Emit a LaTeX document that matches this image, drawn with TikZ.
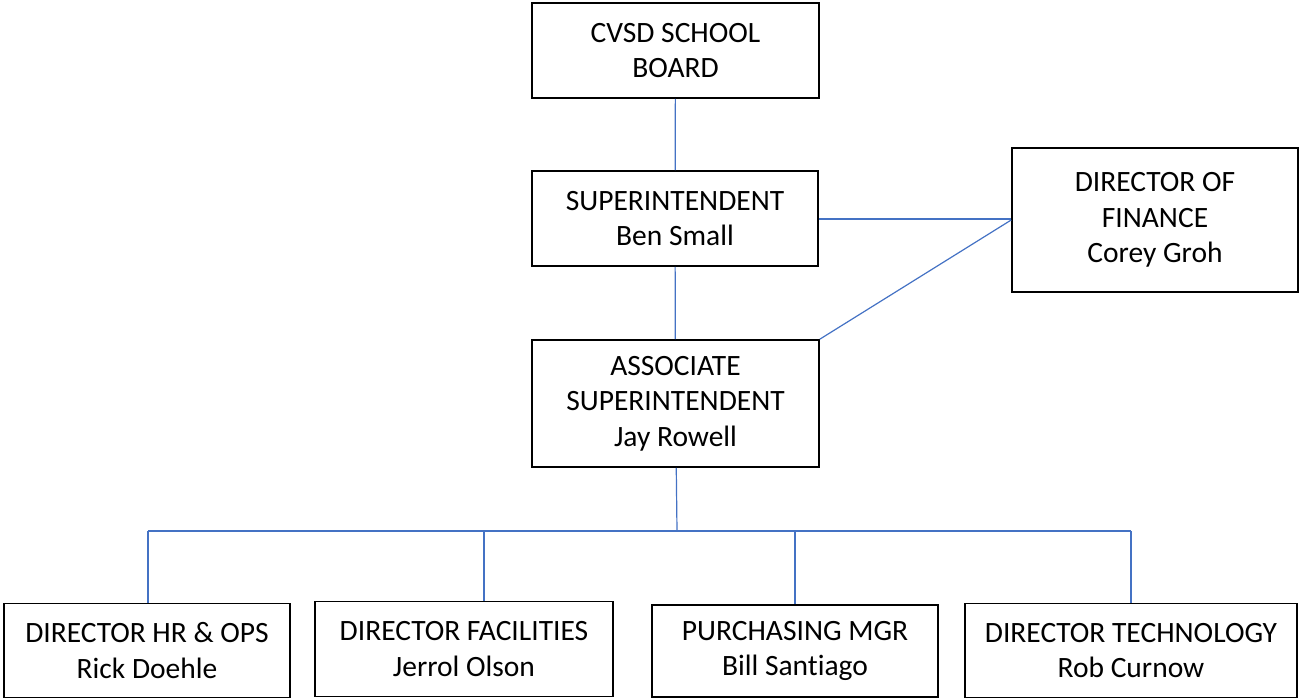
\documentclass[tikz,border=0pt]{standalone}
\usepackage{fontspec}
\setmainfont{Carlito}[Ligatures=NoCommon]
\usepackage{tikz}
\usetikzlibrary{positioning}
\definecolor{azul}{HTML}{4472C4}

\begin{document}
\begin{tikzpicture}[x=1pt, y=-1pt,
      caja/.style={rectangle, draw=black, line width=1.6pt, fill=white, align=center,
                   font=\fontsize{29.5}{35.5}\selectfont, inner sep=0pt},
      enlace/.style={draw=azul, line width=1.2pt},
      barra/.style={draw=azul, line width=2pt}]

    \useasboundingbox (0,0) rectangle (1299,698);

    \node[caja, minimum width=287, minimum height=95] (junta) at (675.5,50.5) {CVSD SCHOOL\\BOARD};
    \node[caja, minimum width=286, minimum height=95] (super) at (675,218.5) {SUPERINTENDENT\\Ben Small};
    \node[caja, minimum width=286, minimum height=144] (finanzas) at (1155,220) {DIRECTOR OF\\FINANCE\\Corey Groh};
    \node[caja, minimum width=287, minimum height=127] (asoc) at (675.5,403.5) {ASSOCIATE\\SUPERINTENDENT\\Jay Rowell};

    \node[caja, minimum width=286, minimum height=94] (rrhh) at (147,650.5) {DIRECTOR HR \& OPS\\Rick Doehle};
    \node[caja, minimum width=298, minimum height=95] (instal) at (464,649) {DIRECTOR FACILITIES\\Jerrol Olson};
    \node[caja, minimum width=286, minimum height=92] (compras) at (795,651) {PURCHASING MGR\\Bill Santiago};
    \node[caja, minimum width=332, minimum height=94] (tecno) at (1131,650.5) {DIRECTOR TECHNOLOGY\\Rob Curnow};

    % barra de reparto
    \coordinate (c0) at (677,531);
    \coordinate (c1) at (148,531);
    \coordinate (c2) at (484,531);
    \coordinate (c3) at (795,531);
    \coordinate (c4) at (1131,531);

    \draw[enlace] (junta) -- (super);
    \draw[enlace] (super) -- (asoc);
    \draw[barra] (super.east) -- (super.east -| finanzas.west);
    \draw[enlace] (asoc.north east) -- (finanzas.west);
    \draw[enlace] (asoc) -- (c0);
    \draw[barra] (c1) -- (c4);
    \draw[barra] (c1) -- (c1 |- rrhh.north);
    \draw[barra] (c2) -- (c2 |- instal.north);
    \draw[barra] (c3) -- (c3 |- compras.north);
    \draw[barra] (c4) -- (c4 |- tecno.north);
  \end{tikzpicture}
\end{document}
